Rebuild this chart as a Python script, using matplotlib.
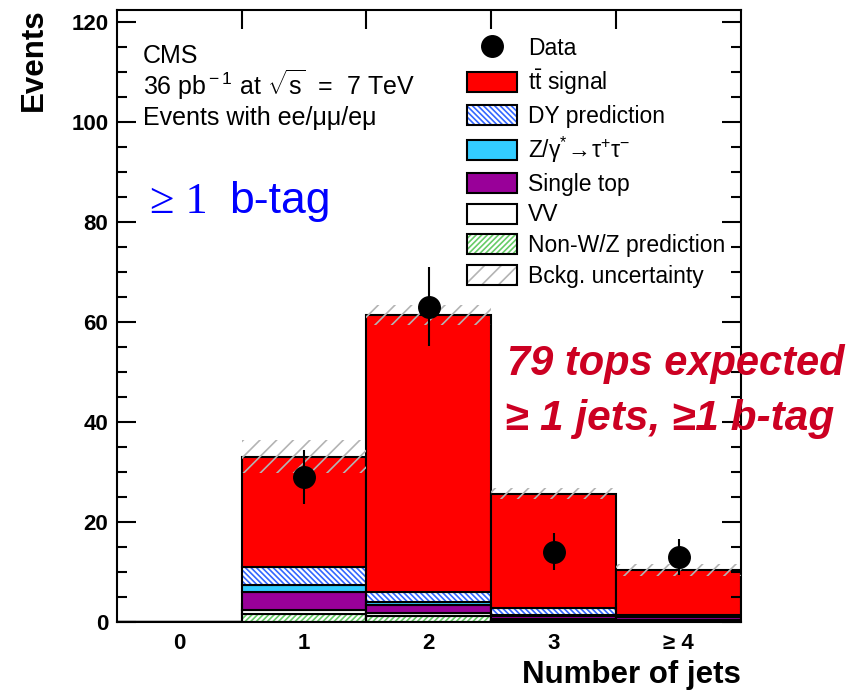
import numpy as np
import matplotlib
matplotlib.use('Agg')
import matplotlib.pyplot as plt
from matplotlib.patches import Patch
from matplotlib.lines import Line2D
from matplotlib.legend_handler import HandlerTuple

plt.rcParams['font.family'] = ['Liberation Sans', 'DejaVu Sans']
plt.rcParams['mathtext.fontset'] = 'custom'
plt.rcParams['mathtext.rm'] = 'Liberation Sans'
plt.rcParams['mathtext.it'] = 'Liberation Sans:italic'
plt.rcParams['mathtext.bf'] = 'Liberation Sans:bold'
plt.rcParams['hatch.linewidth'] = 1.2

# jet multiplicity bins
bin_labels = ['0', '1', '2', '3', '≥ 4']
bin_pos = np.arange(len(bin_labels))

# stacked expectations, bottom to top
nonwz = [0.0, 1.6, 1.2, 0.4, 0.2]
vv = [0.0, 0.8, 0.5, 0.2, 0.1]
single_top = [0.0, 3.5, 1.7, 0.6, 0.6]
ztautau = [0.0, 1.5, 0.6, 0.2, 0.1]
dy = [0.0, 3.5, 2.0, 1.4, 0.3]
ttbar = [0.0, 22.1, 55.3, 22.8, 9.1]
bkg_unc = [0.0, 3.3, 2.0, 1.1, 1.2]

# observed events (bins 1..4)
data_pos = [1, 2, 3, 4]
data_n = [29, 63, 14, 13]
data_err = [5.4, 7.9, 3.7, 3.6]

W, H = 857, 692
fig = plt.figure(figsize=(W / 100, H / 100), dpi=100)
ax = fig.add_axes([116.7 / W, 1 - 621.7 / H, 624.3 / W, 611.7 / H])


def fxy(x, y):
    return x / W, 1 - y / H


lw = 1.5
dy_hatch = '\\' * 6
nonwz_hatch = '/' * 6
unc_hatch = '//'

bottom = np.zeros(len(bin_labels))
layers = [
    (nonwz, 'white', '#66cc66', nonwz_hatch),
    (vv, 'white', None, None),
    (single_top, '#990099', None, None),
    (ztautau, '#33ccff', None, None),
    (dy, 'white', '#3366ff', dy_hatch),
    (ttbar, '#ff0000', None, None),
]
for vals, fc, hc, hatch in layers:
    vals = np.array(vals)
    if hatch:
        ax.bar(bin_pos, vals, width=1.0, bottom=bottom, facecolor=fc,
               edgecolor=hc, hatch=hatch, linewidth=0)
        ax.bar(bin_pos, vals, width=1.0, bottom=bottom, fill=False,
               edgecolor='black', linewidth=lw)
    else:
        ax.bar(bin_pos, vals, width=1.0, bottom=bottom, facecolor=fc,
               edgecolor='black', linewidth=lw)
    bottom = bottom + vals

total = bottom
unc = np.array(bkg_unc)
ax.bar(bin_pos, 2 * unc, width=1.0, bottom=total - unc, fill=False,
       edgecolor='#b4b4b4', hatch=unc_hatch, linewidth=0, zorder=3)

ax.errorbar(data_pos, data_n, yerr=data_err, fmt='o', color='black',
            markersize=15.5, elinewidth=lw, capsize=0, zorder=5)

ax.set_xlim(-0.5, 4.5)
ax.set_ylim(0, 122.4)
ax.set_yticks(np.arange(0, 121, 20))
ax.set_yticks(np.arange(0, 121, 5), minor=True)
ax.set_xticks([0.5, 1.5, 2.5, 3.5])
ax.set_xticklabels([])
ax.set_xticks(bin_pos, minor=True)
ax.set_xticklabels(bin_labels, minor=True)
ax.tick_params(axis='both', which='major', direction='in', length=13.5,
               width=lw, top=True, right=True)
ax.tick_params(axis='y', which='minor', direction='in', length=7,
               width=lw, right=True)
ax.tick_params(axis='x', which='minor', length=0, pad=8)
ax.tick_params(axis='y', which='major', pad=6)
for lab in ax.get_yticklabels() + ax.get_xticklabels(minor=True):
    lab.set_fontsize(16)
    lab.set_fontweight('bold')
for sp in ax.spines.values():
    sp.set_linewidth(lw)

fig.text(*fxy(49, 8), 'Events', rotation=90, ha='right', va='top',
         fontsize=22.5, fontweight='bold')
fig.text(*fxy(741, 683), 'Number of jets', ha='right', va='baseline',
         fontsize=22.5, fontweight='bold')

fig.text(*fxy(143, 63), 'CMS', fontsize=18, va='baseline')
fig.text(*fxy(143, 95), r'36 pb$^{\rm -1}$ at $\sqrt{\rm s}$  =  7 TeV', fontsize=18, va='baseline')
fig.text(*fxy(143, 125), 'Events with ee/μμ/eμ', fontsize=18, va='baseline')

fig.text(*fxy(150, 213), '≥ 1', fontsize=32, color='#0000ff', va='baseline',
         family=['Liberation Serif', 'DejaVu Serif'])
fig.text(*fxy(229, 213), 'b-tag', fontsize=32, color='#0000ff', va='baseline')

red = '#cc0022'
fig.text(*fxy(507, 375), '79 tops expected', fontsize=30, color=red,
         fontweight='bold', fontstyle='italic', va='baseline')
fig.text(*fxy(505, 430), '≥ 1 jets, ≥1 b-tag', fontsize=30.5, color=red,
         fontweight='bold', fontstyle='italic', va='baseline')

outline = dict(fill=False, edgecolor='black', linewidth=lw)
handles = [
    Line2D([], [], marker='o', color='black', markersize=15.5, linestyle='none'),
    Patch(facecolor='#ff0000', edgecolor='black', linewidth=lw),
    (Patch(facecolor='white', edgecolor='#3366ff', hatch=dy_hatch, linewidth=0), Patch(**outline)),
    Patch(facecolor='#33ccff', edgecolor='black', linewidth=lw),
    Patch(facecolor='#990099', edgecolor='black', linewidth=lw),
    Patch(facecolor='white', edgecolor='black', linewidth=lw),
    (Patch(facecolor='white', edgecolor='#66cc66', hatch=nonwz_hatch, linewidth=0), Patch(**outline)),
    (Patch(facecolor='white', edgecolor='#b4b4b4', hatch=unc_hatch, linewidth=0), Patch(**outline)),
]
labels = ['Data', r'$\rm t\bar{t}$ signal', 'DY prediction',
          r'Z/$\mathrm{\gamma^{*}\!\rightarrow\!\tau^{+}\tau^{-}}$', 'Single top', 'VV',
          'Non-W/Z prediction', 'Bckg. uncertainty']
ax.legend(handles, labels, loc='upper left', bbox_to_anchor=fxy(467, 37),
          bbox_transform=fig.transFigure, frameon=False, fontsize=16.5,
          borderpad=0, borderaxespad=0, handlelength=2.18, handleheight=0.96,
          handletextpad=0.48, labelspacing=0.33,
          handler_map={tuple: HandlerTuple(ndivide=1)})

fig.savefig('out.png', dpi=100)
